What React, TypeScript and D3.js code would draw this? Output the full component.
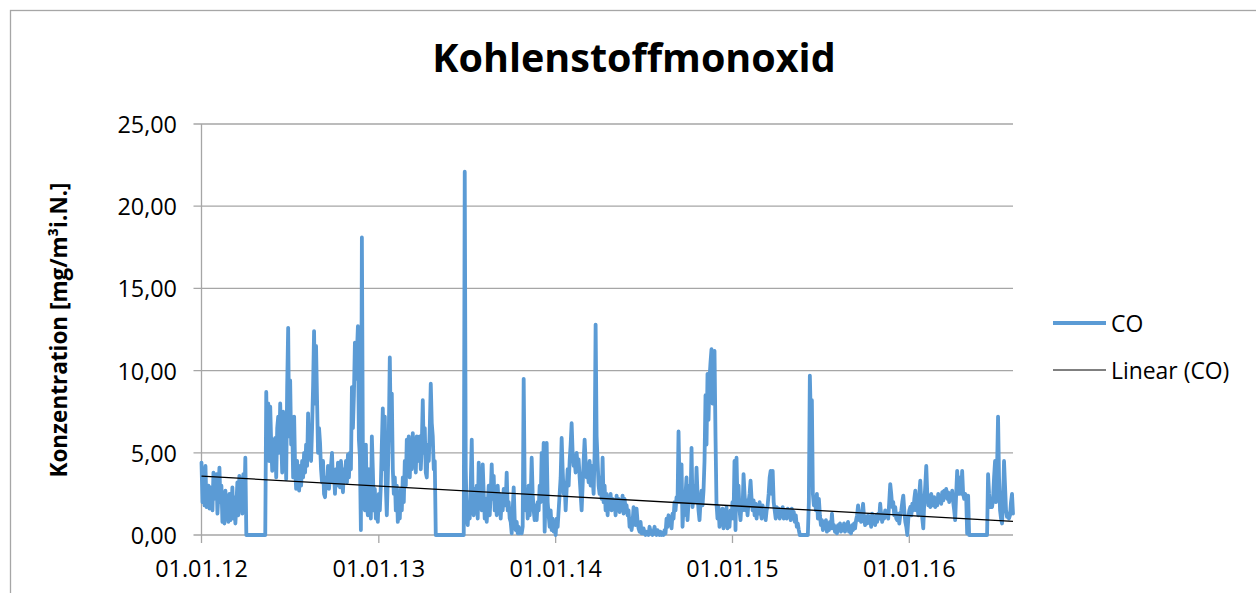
import React from "react";
import * as d3 from "d3";

// ---- Data ----
const chartTitle = "Kohlenstoffmonoxid";
const yAxisTitle = "Konzentration [mg/m³i.N.]";
const seriesName = "CO";
const trendName = "Linear (CO)";

const yTicks = [0, 5, 10, 15, 20, 25];
const xTickDates = ["2012-01-01", "2013-01-01", "2014-01-01", "2015-01-01", "2016-01-01"];
const domainStart = "2012-01-01";
const domainEnd = "2016-08-02";

// CO concentration, samples evenly spread over each year
const co2012 = [
  4.4, 2.0, 3.8, 1.8, 4.2, 1.7, 2.4, 3.0, 1.6, 2.9,
  2.0, 1.5, 3.8, 2.2, 3.0, 3.7, 1.3, 2.5, 4.1, 2.0,
  3.0, 0.8, 2.0, 0.7, 2.7, 1.0, 2.0, 0.8, 2.5, 0.9,
  1.5, 2.9, 1.0, 2.3, 0.7, 1.8, 3.2, 1.2, 3.6, 1.5,
  3.0, 1.3, 3.7, 1.8, 4.7, 0, 0, 0, 0, 0,
  0, 0, 0, 0, 0, 0, 0, 0, 0, 0,
  0, 0, 0, 0, 0, 8.7, 5.0, 8.0, 4.5, 7.8,
  5.5, 3.9, 5.8, 4.0, 5.9, 3.5, 6.5, 7.2, 5.0, 8.0,
  6.0, 3.8, 7.5, 4.5, 6.8, 3.4, 9.0, 12.6, 6.0, 9.4,
  5.5, 7.0, 3.5, 7.2, 4.0, 2.8, 4.5, 3.2, 2.7, 4.2,
  3.0, 4.5, 3.5, 5.0, 3.8, 5.5, 4.2, 7.4, 5.0, 6.0,
  4.5, 6.5, 9.0, 12.4, 8.0, 11.5, 8.2, 5.0, 6.5, 5.6,
  4.0, 3.2, 4.5, 2.5, 2.3, 3.5, 3.0, 4.2, 2.8, 3.8,
  4.2, 5.0, 3.2, 3.9, 2.5, 4.0, 3.0, 4.4, 3.3, 2.9,
  4.5, 3.6, 2.6, 4.0, 3.4, 4.5, 3.2, 4.9, 3.5, 5.0,
  4.0, 9.0, 6.5, 8.5, 11.7, 9.5, 11.0, 12.7, 5.8, 4.8,
  0.3, 18.1, 5.0, 2.0, 1.5, 5.5, 1.8, 1.2, 4.0, 2.5,
  1.0, 6.0, 4.0, 1.5, 2.8, 1.0, 2.0, 0.8,
];

const co2013 = [
  2.5, 1.5, 3.0, 5.5, 7.7, 4.0, 7.2, 3.0, 1.2, 3.5,
  6.2, 10.8, 6.0, 8.6, 4.0, 2.5, 3.5, 1.5, 3.0, 0.8,
  2.2, 1.0, 2.8, 1.5, 3.5, 2.0, 4.5, 3.0, 5.8, 4.2,
  6.0, 3.5, 5.5, 4.0, 6.2, 4.5, 5.8, 3.8, 6.0, 4.5,
  5.0, 6.0, 4.0, 5.5, 8.2, 5.0, 6.5, 3.8, 3.5, 5.5,
  4.5, 6.5, 9.2, 6.8, 6.0, 4.0, 4.5, 0, 0, 0,
  0, 0, 0, 0, 0, 0, 0, 0, 0, 0,
  0, 0, 0, 0, 0, 0, 0, 0, 0, 0,
  0, 0, 0, 0, 0, 0, 22.1, 4.0, 1.2, 0.6,
  2.0, 1.0, 3.0, 5.8, 2.0, 1.2, 2.8, 1.5, 3.0, 1.0,
  4.4, 2.0, 3.2, 1.5, 4.3, 2.5, 1.0, 2.2, 0.8, 1.8,
  3.0, 1.2, 2.5, 4.3, 2.2, 3.6, 1.5, 2.8, 1.2, 3.0,
  1.8, 2.5, 1.0, 2.2, 1.5, 2.8, 1.8, 2.0, 3.8, 1.5,
  2.0, 1.0, 0.8, 0.1, 1.5, 2.9, 1.0, 0.3, 0.8, 0.1,
  0.5, 0.1, 0.2, 0.1, 0.5, 9.5, 3.0, 1.5, 2.5, 1.0,
  3.0, 1.2, 2.2, 4.7, 2.5, 1.5, 0.9, 1.8, 0.9, 2.0,
  1.5, 3.0, 2.0, 5.0, 3.0, 5.6, 0.2, 2.5, 5.6, 2.0,
  1.2, 0.5, 1.5, 0.3, 1.0, 0.2, 0.8,
];

const co2014 = [
  0.0, 1.0, 0.5, 1.5, 2.5, 3.5, 5.9, 4.0, 2.5, 3.2,
  1.5, 2.8, 4.0, 3.0, 4.5, 5.5, 6.8, 5.0, 4.2, 4.5,
  3.8, 5.0, 4.2, 4.6, 3.5, 2.5, 1.5, 3.0, 4.5, 5.8,
  4.5, 3.5, 4.0, 3.2, 4.5, 3.0, 4.2, 3.5, 2.5, 5.0,
  12.8, 6.0, 4.5, 3.0, 2.5, 3.5, 2.2, 4.7, 2.0, 3.0,
  1.5, 2.5, 1.2, 2.3, 1.8, 2.5, 1.5, 2.2, 1.6, 2.0,
  1.2, 2.4, 1.8, 2.2, 1.4, 2.0, 1.5, 2.4, 1.3, 2.2,
  1.6, 1.8, 1.2, 1.5, 0.5, 1.0, 0.3, 0.8, 1.7, 1.4,
  0.6, 1.6, 0.8, 0.4, 0.2, 0.8, 0.1, 0.1, 0.4, 0.1,
  0.0, 0.2, 0.1, 0.0, 0.5, 0.2, 0.1, 0.0, 0.2, 0.5,
  0.1, 0.0, 0.3, 0.1, 0.0, 0.2, 0.0, 0.1, 0.0, 0.3,
  0.1, 1.0, 0.5, 1.2, 0.6, 1.0, 0.4, 1.3, 1.0, 2.0,
  1.5, 2.3, 2.0, 6.3, 3.0, 2.0, 4.3, 0.5, 1.8, 1.2,
  2.5, 3.5, 0.9, 2.0, 3.0, 2.0, 5.3, 1.7, 2.5, 3.0,
  2.0, 4.1, 2.5, 1.5, 0.9, 2.0, 2.7, 1.8, 2.7, 4.5,
  8.5, 5.5, 9.8, 7.0, 9.5, 10.5, 11.3, 8.0, 10.5, 11.2,
  6.0, 1.9, 1.0, 1.7, 0.5, 1.5, 0.8, 1.6, 0.4, 1.5,
  0.8, 1.7, 0.4, 1.2, 0.5, 1.5, 1.0,
];

const co2015 = [
  2.0, 1.0, 4.5, 0.3, 4.7, 2.0, 3.0, 1.5, 0.9, 2.0,
  1.5, 3.7, 2.5, 1.5, 2.1, 1.2, 2.0, 2.5, 3.3, 2.2,
  1.5, 2.1, 1.2, 1.9, 1.0, 1.8, 1.3, 2.0, 1.4, 1.0,
  1.8, 1.2, 1.6, 0.9, 1.5, 1.8, 2.5, 3.5, 3.9, 2.5,
  3.9, 2.0, 1.5, 1.0, 1.7, 1.2, 1.6, 1.0, 1.5, 1.2,
  1.7, 1.0, 1.4, 1.5, 1.0, 1.6, 1.2, 1.5, 0.9, 1.6,
  1.0, 1.4, 0.8, 1.2, 0.5, 0.7, 0.3, 0.0, 0.0, 0.0,
  0.0, 0.0, 0.0, 0.0, 0.0, 0.0, 2.0, 9.7, 7.0, 8.2,
  2.5, 1.8, 2.3, 1.5, 2.5, 1.0, 2.2, 1.2, 0.6, 0.9,
  0.3, 0.8, 0.5, 0.9, 0.2, 0.7, 0.3, 0.8, 0.4, 1.3,
  0.4, 0.6, 0.2, 0.5, 0.1, 0.6, 0.3, 0.7, 0.2, 0.5,
  0.3, 0.7, 0.2, 0.6, 0.4, 0.8, 0.2, 0.5, 0.1, 0.6,
  0.3, 0.7, 0.4, 0.9, 1.2, 1.8, 0.9, 1.2, 0.8, 1.4,
  1.9, 1.0, 0.6, 1.1, 0.7, 1.2, 0.8, 1.0, 0.5, 1.3,
  0.7, 1.1, 0.6, 1.2, 0.8, 1.3, 1.0, 1.9, 1.2, 0.8,
  1.3, 1.0, 1.5, 1.2, 1.3, 1.0, 2.0, 3.1, 2.5, 1.7,
  2.0, 1.2, 1.7, 1.0, 0.9, 1.3, 0.7, 1.2, 1.5, 2.0,
  2.4, 1.5, 0.8, 0.5, 0.0, 1.0,
];

const co2016 = [
  1.5, 1.7, 1.2, 1.9, 1.5, 2.2, 2.7, 1.5, 2.0, 1.2,
  2.5, 3.3, 2.0, 1.0, 0.4, 2.0, 3.0, 4.2, 2.5, 1.8,
  2.4, 1.7, 2.5, 2.0, 1.8, 2.3, 1.7, 2.2, 1.8, 2.5,
  2.0, 2.3, 1.9, 2.6, 2.1, 2.7, 2.3, 2.8, 2.2, 2.6,
  2.0, 2.5, 2.2, 2.7, 2.0, 1.5, 0.9, 2.5, 3.9, 2.8,
  2.5, 3.5, 2.5, 3.9, 2.5, 2.2, 2.5, 2.4, 0.1, 2.4,
  0, 0, 0, 0, 0, 0, 0, 0, 0, 0,
  0, 0, 0, 0, 0, 0, 0, 0, 0, 3.7,
  2.5, 1.7, 2.0, 1.7, 2.2, 3.5, 4.5, 2.0, 4.0, 7.2,
  3.5, 1.5, 1.0, 0.7, 2.0, 4.5, 3.0, 1.5, 1.1, 1.3,
  1.0, 1.2, 2.0, 2.5, 1.3,
];

// Linear trend of CO at the start and end of the period
const trendValues = [3.58, 0.83];

// ---- Build the series ----
const parse = (s: string) => new Date(s + "T00:00:00Z");

const yearBlocks = [
  { start: "2012-01-01", end: "2013-01-01", values: co2012, inclusive: false },
  { start: "2013-01-01", end: "2014-01-01", values: co2013, inclusive: false },
  { start: "2014-01-01", end: "2015-01-01", values: co2014, inclusive: false },
  { start: "2015-01-01", end: "2016-01-01", values: co2015, inclusive: false },
  { start: "2016-01-01", end: domainEnd, values: co2016, inclusive: true },
];

type Pt = { date: Date; value: number };
const points: Pt[] = [];
yearBlocks.forEach((b) => {
  const s = parse(b.start).getTime();
  const e = parse(b.end).getTime();
  const n = b.values.length;
  const step = (e - s) / (b.inclusive ? n - 1 : n);
  b.values.forEach((v, i) => points.push({ date: new Date(s + i * step), value: v }));
});

const W = 1256;
const H = 593;
const plot = { left: 201.5, right: 1013, top: 124, bottom: 535 };

const x = d3.scaleUtc().domain([parse(domainStart), parse(domainEnd)]).range([plot.left, plot.right]);
const y = d3.scaleLinear().domain([0, 25]).range([plot.bottom, plot.top]);

const deLocale = d3.formatLocale({ decimal: ",", thousands: ".", grouping: [3], currency: ["", " €"] });
const fmtY = deLocale.format(".2f");
const fmtX = d3.utcFormat("%d.%m.%y");

const line = d3
  .line<Pt>()
  .x((d) => x(d.date))
  .y((d) => y(d.value));

const trendPts: Pt[] = [
  { date: parse(domainStart), value: trendValues[0] },
  { date: parse(domainEnd), value: trendValues[1] },
];

const FONT = "'Open Sans', 'Liberation Sans', sans-serif";
const GRID = "#A6A6A6";
const BLUE = "#5B9BD5";

export default function App() {
  return (
    <svg
      width={W}
      height={H}
      style={{ position: "fixed", left: 0, top: 0, background: "#fff" }}
      fontFamily={FONT}
    >
      <rect x={0} y={0} width={W} height={H} fill="#fff" />
      <rect x={10.5} y={10.5} width={1400} height={800} fill="none" stroke={GRID} strokeWidth={1.3} />

      <text x={634} y={72} textAnchor="middle" fontSize={39.5} fontWeight="bold" fill="#000">
        {chartTitle}
      </text>

      {/* gridlines */}
      {yTicks.map((t) => (
        <line key={"g" + t} x1={plot.left - 8} x2={plot.right} y1={y(t)} y2={y(t)} stroke={GRID} strokeWidth={1.3} />
      ))}
      {/* y axis */}
      <line x1={plot.left} x2={plot.left} y1={plot.top} y2={plot.bottom} stroke={GRID} strokeWidth={1.3} />
      {yTicks.map((t) => (
        <text key={"yl" + t} x={177} y={y(t) + 9} textAnchor="end" fontSize={23.4} fill="#000">
          {fmtY(t)}
        </text>
      ))}
      {/* x ticks */}
      {xTickDates.map((d) => (
        <g key={d}>
          <line x1={x(parse(d))} x2={x(parse(d))} y1={plot.bottom} y2={plot.bottom + 8} stroke={GRID} strokeWidth={1.3} />
          <text x={x(parse(d))} y={577} textAnchor="middle" fontSize={23.4} fill="#000">
            {fmtX(parse(d))}
          </text>
        </g>
      ))}

      <text
        transform={`translate(67,330) rotate(-90)`}
        textAnchor="middle"
        fontSize={22.5}
        fontWeight="bold"
        fill="#000"
      >
        {yAxisTitle}
      </text>

      {/* series */}
      <path d={line(points) || ""} fill="none" stroke={BLUE} strokeWidth={3.8} strokeLinejoin="round" strokeLinecap="round" />
      <path d={line(trendPts) || ""} fill="none" stroke="#000" strokeWidth={1.3} />

      {/* legend */}
      <line x1={1053} x2={1106} y1={323} y2={323} stroke={BLUE} strokeWidth={3.8} />
      <text x={1111} y={331.5} fontSize={22.9} fill="#000">
        {seriesName}
      </text>
      <line x1={1053} x2={1106} y1={370} y2={370} stroke="#000" strokeWidth={1} />
      <text x={1111} y={378.5} fontSize={22.9} fill="#000">
        {trendName}
      </text>
    </svg>
  );
}
